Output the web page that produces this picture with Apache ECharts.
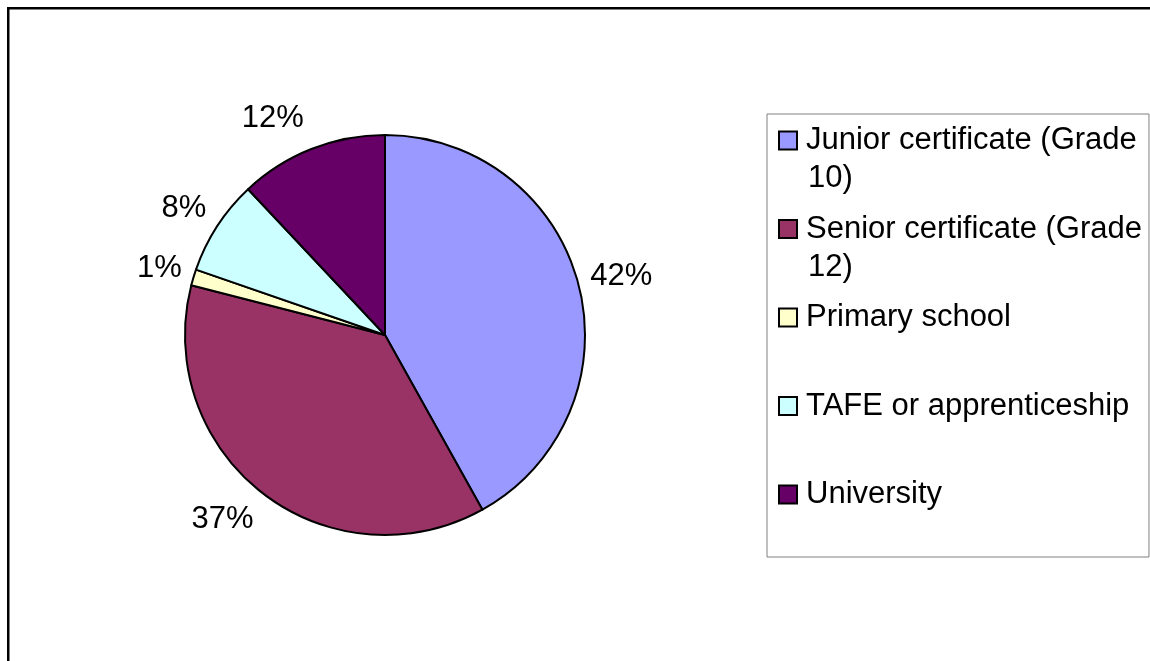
<!DOCTYPE html>
<html>
<head>
<meta charset="utf-8">
<script src="https://cdn.jsdelivr.net/npm/echarts@6/dist/echarts.min.js"></script>
<style>
html,body{margin:0;padding:0;background:#fff;}
#chart{width:1150px;height:661px;}
</style>
</head>
<body>
<div id="chart"></div>
<script>
// ---- data ----
var categories = ['Junior certificate (Grade 10)', 'Senior certificate (Grade 12)', 'Primary school', 'TAFE or apprenticeship', 'University'];
var legendLines = [['Junior certificate (Grade', '10)'], ['Senior certificate (Grade', '12)'], ['Primary school', ''], ['TAFE or apprenticeship', ''], ['University', '']];
var values = [41.9, 37.1, 1.3, 7.7, 12.0];
var colors = ['#9999FF', '#993366', '#FFFFCC', '#CCFFFF', '#660066'];

var FONT = 'Liberation Sans, Arial, sans-serif';
var FS = 31;

var total = values.reduce(function (a, b) { return a + b; }, 0);
function midAngle(i) {
  var c = 0;
  for (var k = 0; k < i; k++) c += values[k];
  return (c + values[i] / 2) / total * 2 * Math.PI; // clockwise from top
}

var rich = {
  t: { fontSize: FS, lineHeight: 38, color: '#000', fontFamily: FONT },
  g: { width: 10, height: 10, lineHeight: 38 },
  s: { width: 28, height: 10, lineHeight: 38 }
};
colors.forEach(function (c, i) {
  rich['m' + i] = { width: 16, height: 16, backgroundColor: c, borderColor: '#000', borderWidth: 2, lineHeight: 38 };
});

var chart = echarts.init(document.getElementById('chart'), null, { renderer: 'canvas' });
chart.setOption({
  animation: false,
  backgroundColor: '#fff',
  textStyle: { fontFamily: FONT },
  color: colors,
  graphic: [{
    type: 'rect', silent: true, z: 100,
    shape: { x: 8.25, y: 8.25, width: 1400, height: 900 },
    style: { fill: 'none', stroke: '#000', lineWidth: 2.5 }
  }],
  legend: {
    orient: 'vertical',
    left: 767, top: 114,
    padding: [11, 7, 9, 8],
    itemGap: 19.5,
    icon: 'none',
    itemWidth: 0, itemHeight: 0,
    backgroundColor: '#fff',
    borderColor: '#808080', borderWidth: 1,
    selectedMode: false,
    data: categories,
    formatter: function (name) {
      var i = categories.indexOf(name);
      var l = legendLines[i];
      return '{m' + i + '|}{g|}{t|' + l[0] + '}\n{s|}{t|' + (l[1] || ' ') + '}';
    },
    textStyle: { rich: rich, fontSize: FS, fontFamily: FONT }
  },
  series: [{
    type: 'pie',
    center: [385, 335],
    radius: 200,
    startAngle: 90,
    clockwise: true,
    avoidLabelOverlap: false,
    itemStyle: { borderColor: '#000', borderWidth: 2 },
    emphasis: { disabled: true },
    label: {
      show: true, position: 'outside', color: '#000',
      fontSize: FS, fontFamily: FONT,
      formatter: function (p) { return Math.round(p.percent) + '%'; }
    },
    labelLine: { show: false, length: 7, length2: 0 },
    labelLayout: function (params) {
      var a = midAngle(params.dataIndex);
      var dirY = -Math.cos(a);
      return { dy: dirY * (params.labelRect.height / 2 + 10) };
    },
    data: categories.map(function (c, i) { return { name: c, value: values[i] }; })
  }]
});
</script>
</body>
</html>
